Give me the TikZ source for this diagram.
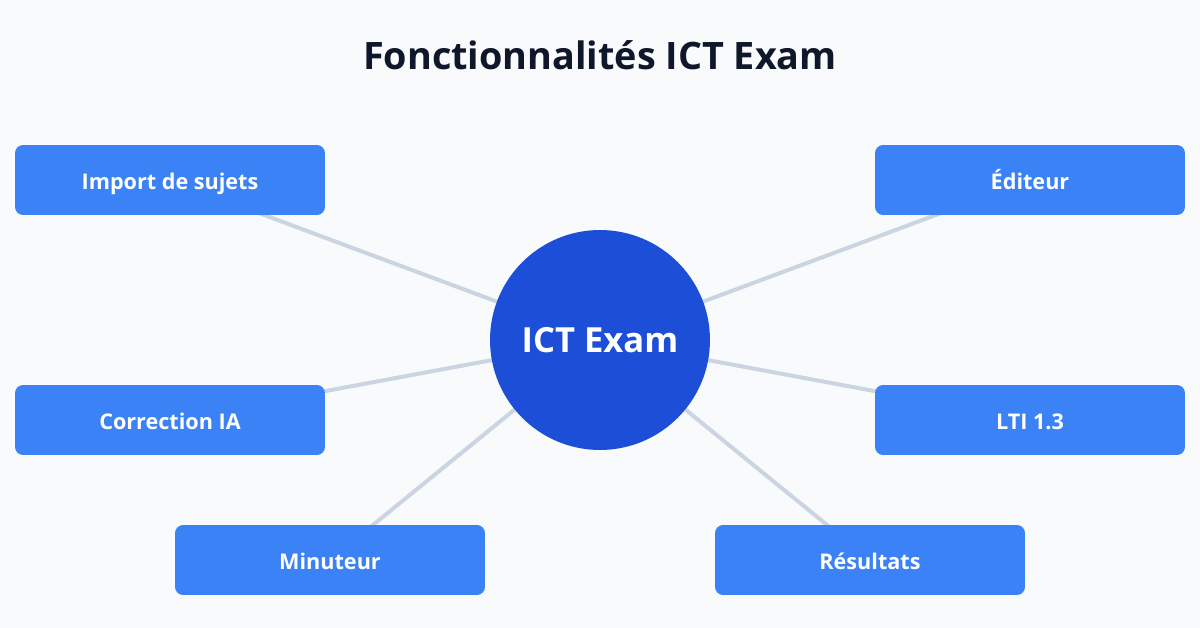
\documentclass[tikz,border=0pt]{standalone}
\usepackage{fontspec}
\setmainfont{Open Sans}
\usetikzlibrary{positioning,backgrounds}
\definecolor{bgcol}{HTML}{F8FAFC}
\definecolor{titlecol}{HTML}{0F172A}
\definecolor{hubcol}{HTML}{1D4ED8}
\definecolor{boxcol}{HTML}{3B82F6}
\definecolor{linkcol}{HTML}{CBD5E1}
\pgfdeclarelayer{canvas}
\pgfsetlayers{canvas,background,main}
\tikzset{
	feature/.style={rectangle, rounded corners=0.16cm, fill=boxcol, text=white, minimum width=6.2cm, minimum height=1.4cm, text height=10.6pt, text depth=0pt, font=\fontsize{12.3}{14}\selectfont\bfseries},
	hub/.style={circle, fill=hubcol, text=white, minimum size=4.4cm, inner sep=0pt, text height=14pt, text depth=0pt, font=\fontsize{19.7}{23}\selectfont\bfseries},
	link/.style={draw=linkcol, line width=0.08cm}
}

\begin{document}
\begin{tikzpicture}[x=0.02cm, y=-0.02cm]
	\begin{pgfonlayer}{canvas}
		\fill[bgcol] (0,0) rectangle (1200,628);
	\end{pgfonlayer}
	\useasboundingbox (0,0) rectangle (1200,628);
	\node[text=titlecol, text height=15.4pt, text depth=0pt, font=\fontsize{21.5}{25}\selectfont\bfseries] (title) at (600,56) {Fonctionnalités ICT Exam};
	\node[hub] (ictexam) at (600,340) {ICT Exam};
	\foreach \n/\t/\x/\y in {import/Import de sujets/170/180, editeur/Éditeur/1030/180, correction/Correction IA/170/420, lti/LTI 1.3/1030/420, minuteur/Minuteur/330/560, resultats/Résultats/870/560}
		\node[feature] (\n) at (\x,\y) {\t};
	\begin{scope}[on background layer]
		\foreach \n in {import,editeur,correction,lti,minuteur,resultats}
			\draw[link] (ictexam.center) -- (\n.center);
	\end{scope}
\end{tikzpicture}
\end{document}
